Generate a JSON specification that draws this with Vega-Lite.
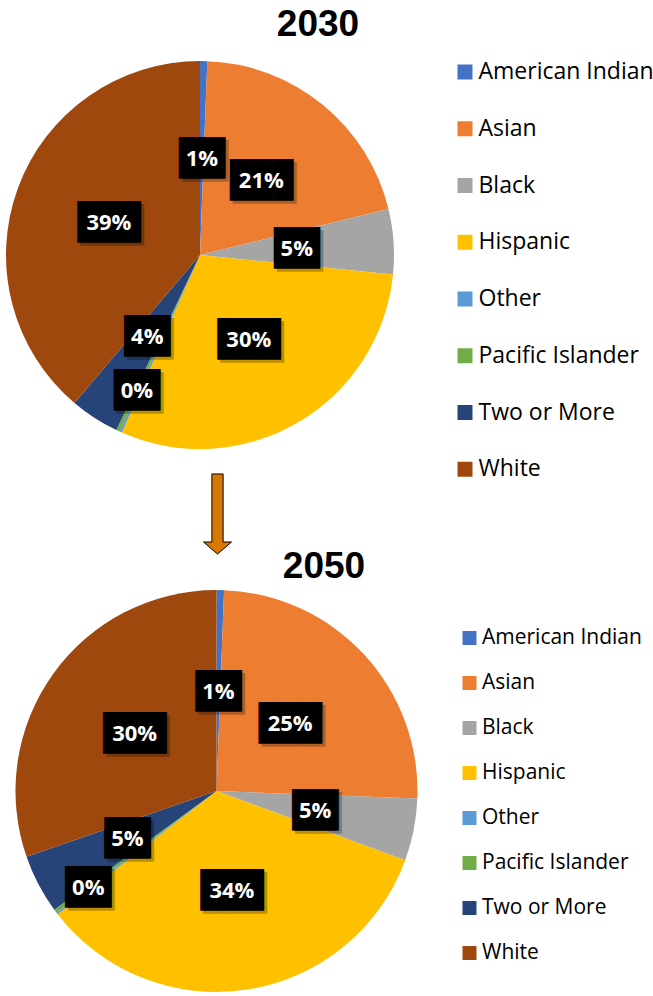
{
  "$schema": "https://vega.github.io/schema/vega-lite/v6.json",
  "width": 653,
  "height": 996,
  "autosize": "none",
  "padding": 0,
  "background": "white",
  "config": {
    "view": {"stroke": null},
    "legend": {
      "orient": "none",
      "title": null,
      "symbolType": "square",
      "symbolStrokeWidth": 0,
      "labelFont": "Open Sans",
      "labelColor": "#000000",
      "padding": 0,
      "labelLimit": 300
    }
  },
  "data": {
    "values": [
      {"year": "2030", "group": "American Indian", "value": 0.006},
      {"year": "2030", "group": "Asian", "value": 0.206},
      {"year": "2030", "group": "Black", "value": 0.054},
      {"year": "2030", "group": "Hispanic", "value": 0.300},
      {"year": "2030", "group": "Other", "value": 0.002},
      {"year": "2030", "group": "Pacific Islander", "value": 0.003},
      {"year": "2030", "group": "Two or More", "value": 0.041},
      {"year": "2030", "group": "White", "value": 0.388},
      {"year": "2050", "group": "American Indian", "value": 0.006},
      {"year": "2050", "group": "Asian", "value": 0.250},
      {"year": "2050", "group": "Black", "value": 0.050},
      {"year": "2050", "group": "Hispanic", "value": 0.339},
      {"year": "2050", "group": "Other", "value": 0.0015},
      {"year": "2050", "group": "Pacific Islander", "value": 0.003},
      {"year": "2050", "group": "Two or More", "value": 0.0475},
      {"year": "2050", "group": "White", "value": 0.303}
    ]
  },
  "layer": [
    {
      "transform": [{"filter": "datum.year == '2030'"}],
      "encoding": {
        "x": {"field": "year", "type": "nominal", "scale": {"type": "point", "domain": ["2030", "2050"], "range": [200, 216.5], "padding": 0}, "axis": null},
        "y": {"field": "year", "type": "nominal", "scale": {"type": "point", "domain": ["2030", "2050"], "range": [255, 791], "padding": 0}, "axis": null},
        "theta": {"field": "value", "type": "quantitative", "stack": true},
        "order": {"field": "group", "type": "nominal", "sort": "ascending"}
      },
      "layer": [
        {
          "mark": {"type": "arc", "outerRadius": 194},
          "encoding": {
            "color": {
              "field": "group", "type": "nominal",
              "scale": {
                "domain": ["American Indian", "Asian", "Black", "Hispanic", "Other", "Pacific Islander", "Two or More", "White"],
                "range": ["#4472C4", "#ED7D31", "#A5A5A5", "#FFC000", "#5B9BD5", "#70AD47", "#264478", "#9E480E"]
              },
              "legend": {"legendX": 453.5, "legendY": 60.5, "symbolSize": 225, "labelFontSize": 23, "labelOffset": 2, "rowPadding": 32.75}
            }
          }
        },
        {
          "mark": {"type": "text", "radius": 97, "font": "DejaVu Sans Mono", "fontSize": 35, "baseline": "alphabetic", "align": "center", "dx": 3, "dy": 15, "fill": "#000000", "opacity": 0.25},
          "encoding": {
            "text": {"condition": [{"test": "datum.group == 'Other' || datum.group == 'Pacific Islander'", "value": ""}, {"test": "datum.value >= 0.095", "value": "███"}], "value": "▕██▏"}
          }
        },
        {
          "mark": {"type": "text", "radius": 97, "font": "DejaVu Sans Mono", "fontSize": 35, "baseline": "alphabetic", "align": "center", "dy": 12, "fill": "#000000"},
          "encoding": {
            "text": {"condition": [{"test": "datum.group == 'Other' || datum.group == 'Pacific Islander'", "value": ""}, {"test": "datum.value >= 0.095", "value": "███"}], "value": "▕██▏"}
          }
        },
        {
          "mark": {"type": "text", "radius": 97, "font": "Open Sans", "fontWeight": "bold", "fontSize": 22, "align": "center", "baseline": "middle", "dy": 1, "fill": "#ffffff"},
          "encoding": {
            "text": {"condition": {"test": "datum.group == 'Other' || datum.group == 'Pacific Islander'", "value": ""}, "field": "value", "type": "quantitative", "format": ".0%"}
          }
        },
        {
          "mark": {"type": "text", "radius": 149, "font": "DejaVu Sans Mono", "fontSize": 35, "baseline": "alphabetic", "align": "center", "dx": 3, "dy": 15, "fill": "#000000", "opacity": 0.25},
          "encoding": {
            "text": {"condition": {"test": "datum.group == 'Pacific Islander'", "value": "▕██▏"}, "value": ""}
          }
        },
        {
          "mark": {"type": "text", "radius": 149, "font": "DejaVu Sans Mono", "fontSize": 35, "baseline": "alphabetic", "align": "center", "dy": 12, "fill": "#000000"},
          "encoding": {
            "text": {"condition": {"test": "datum.group == 'Pacific Islander'", "value": "▕██▏"}, "value": ""}
          }
        },
        {
          "mark": {"type": "text", "radius": 149, "font": "Open Sans", "fontWeight": "bold", "fontSize": 22, "align": "center", "baseline": "middle", "dy": 1, "fill": "#ffffff"},
          "encoding": {
            "text": {"condition": {"test": "datum.group != 'Pacific Islander'", "value": ""}, "field": "value", "type": "quantitative", "format": ".0%"}
          }
        }
      ]
    },
    {
      "transform": [{"filter": "datum.year == '2050'"}],
      "encoding": {
        "x": {"field": "year", "type": "nominal", "scale": {"type": "point", "domain": ["2030", "2050"], "range": [200, 216.5], "padding": 0}, "axis": null},
        "y": {"field": "year", "type": "nominal", "scale": {"type": "point", "domain": ["2030", "2050"], "range": [255, 791], "padding": 0}, "axis": null},
        "theta": {"field": "value", "type": "quantitative", "stack": true},
        "order": {"field": "group", "type": "nominal", "sort": "ascending"}
      },
      "layer": [
        {
          "mark": {"type": "arc", "outerRadius": 201},
          "encoding": {
            "color": {
              "field": "group", "type": "nominal",
              "scale": {
                "domain": ["American Indian", "Asian", "Black", "Hispanic", "Other", "Pacific Islander", "Two or More", "White"],
                "range": ["#4472C4", "#ED7D31", "#A5A5A5", "#FFC000", "#5B9BD5", "#70AD47", "#264478", "#9E480E"]
              },
              "legend": {"legendX": 459, "legendY": 627.5, "symbolSize": 196, "labelFontSize": 21, "labelOffset": 2, "rowPadding": 23}
            }
          }
        },
        {
          "mark": {"type": "text", "radius": 100.5, "font": "DejaVu Sans Mono", "fontSize": 35, "baseline": "alphabetic", "align": "center", "dx": 3, "dy": 15, "fill": "#000000", "opacity": 0.25},
          "encoding": {
            "text": {"condition": [{"test": "datum.group == 'Other' || datum.group == 'Pacific Islander'", "value": ""}, {"test": "datum.value >= 0.095", "value": "███"}], "value": "▕██▏"}
          }
        },
        {
          "mark": {"type": "text", "radius": 100.5, "font": "DejaVu Sans Mono", "fontSize": 35, "baseline": "alphabetic", "align": "center", "dy": 12, "fill": "#000000"},
          "encoding": {
            "text": {"condition": [{"test": "datum.group == 'Other' || datum.group == 'Pacific Islander'", "value": ""}, {"test": "datum.value >= 0.095", "value": "███"}], "value": "▕██▏"}
          }
        },
        {
          "mark": {"type": "text", "radius": 100.5, "font": "Open Sans", "fontWeight": "bold", "fontSize": 22, "align": "center", "baseline": "middle", "dy": 1, "fill": "#ffffff"},
          "encoding": {
            "text": {"condition": {"test": "datum.group == 'Other' || datum.group == 'Pacific Islander'", "value": ""}, "field": "value", "type": "quantitative", "format": ".0%"}
          }
        },
        {
          "mark": {"type": "text", "radius": 160, "font": "DejaVu Sans Mono", "fontSize": 35, "baseline": "alphabetic", "align": "center", "dx": 3, "dy": 15, "fill": "#000000", "opacity": 0.25},
          "encoding": {
            "text": {"condition": {"test": "datum.group == 'Pacific Islander'", "value": "▕██▏"}, "value": ""}
          }
        },
        {
          "mark": {"type": "text", "radius": 160, "font": "DejaVu Sans Mono", "fontSize": 35, "baseline": "alphabetic", "align": "center", "dy": 12, "fill": "#000000"},
          "encoding": {
            "text": {"condition": {"test": "datum.group == 'Pacific Islander'", "value": "▕██▏"}, "value": ""}
          }
        },
        {
          "mark": {"type": "text", "radius": 160, "font": "Open Sans", "fontWeight": "bold", "fontSize": 22, "align": "center", "baseline": "middle", "dy": 1, "fill": "#ffffff"},
          "encoding": {
            "text": {"condition": {"test": "datum.group != 'Pacific Islander'", "value": ""}, "field": "value", "type": "quantitative", "format": ".0%"}
          }
        }
      ]
    },
    {
      "data": {"values": [{"year": "2030"}, {"year": "2050"}]},
      "mark": {"type": "text", "font": "Liberation Sans", "fontWeight": "bold", "fontSize": 37, "baseline": "alphabetic", "align": "center", "fill": "#000000"},
      "encoding": {
        "text": {"field": "year", "type": "nominal"},
        "x": {"field": "year", "type": "nominal", "scale": {"type": "point", "domain": ["2030", "2050"], "range": [318, 324], "padding": 0}, "axis": null},
        "y": {"field": "year", "type": "nominal", "scale": {"type": "point", "domain": ["2030", "2050"], "range": [35.5, 577.5], "padding": 0}, "axis": null}
      }
    },
    {
      "data": {"values": [{"from": "2030", "to": "2050"}]},
      "mark": {"type": "point", "shape": "M-0.4,-4.86H0.4V0H1L0,0.86L-1,0H-0.4Z", "size": 784, "filled": true, "fill": "#D77800", "stroke": "#000000", "strokeWidth": 1, "opacity": 1},
      "encoding": {
        "x": {"field": "to", "type": "nominal", "scale": {"type": "point", "domain": ["2030", "2050"], "range": [200, 217.5], "padding": 0}, "axis": null},
        "y": {"field": "to", "type": "nominal", "scale": {"type": "point", "domain": ["2030", "2050"], "range": [449, 542], "padding": 0}, "axis": null}
      }
    }
  ],
  "resolve": {"scale": {"x": "independent", "y": "independent", "color": "independent"}}
}
